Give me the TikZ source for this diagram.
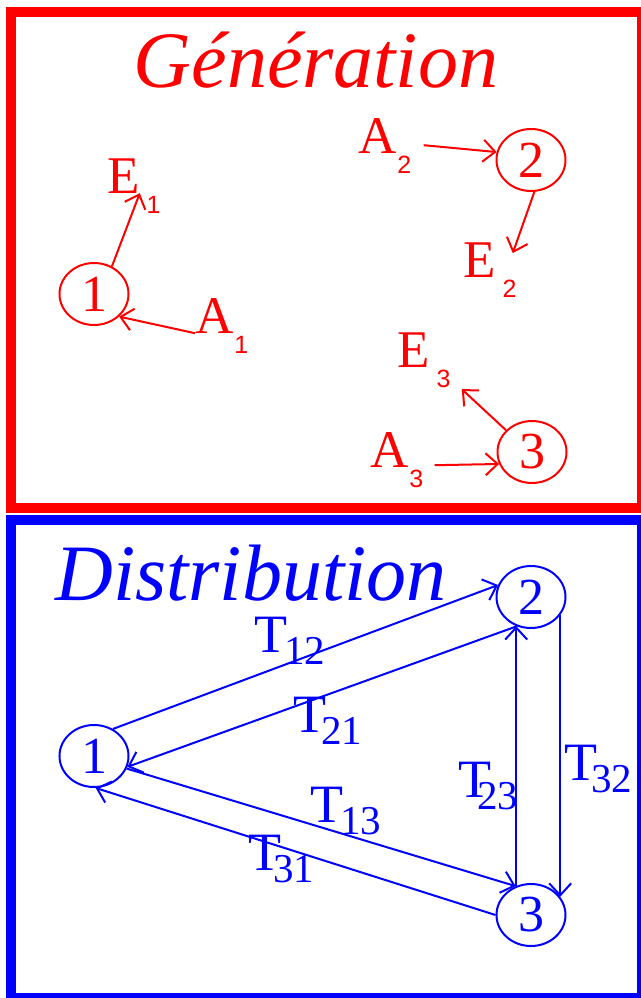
\documentclass[tikz,border=0pt]{standalone}
\usepackage{fontspec}
\setmainfont{Liberation Serif}
\setsansfont{Liberation Sans}
\usetikzlibrary{shapes.geometric,arrows.meta}

% letter with a small sans subscript hanging below (not part of the node box)
\newcommand\glab[3][7pt]{#2\smash{\rlap{\hspace{#1}\raisebox{-20pt}{\fontsize{25}{25}\sffamily #3}}}}
% T with its index
\newcommand\tlab[2][-3pt]{T\hspace{#1}\raisebox{-12pt}{\fontsize{41}{41}\selectfont #2}}

\begin{document}
\begin{tikzpicture}[x=1pt,y=-1pt,
	gnode/.style={ellipse,draw=red,text=red,line width=2pt,minimum width=69pt,minimum height=62pt,inner sep=0pt,font=\fontsize{52}{52}\selectfont},
	dnode/.style={gnode,draw=blue,text=blue},
	glabel/.style={anchor=base west,inner sep=0pt,text=red,font=\fontsize{53}{53}\selectfont},
	dlabel/.style={anchor=base west,inner sep=0pt,text=blue,font=\fontsize{54}{54}\selectfont},
	garrow/.style={red,line width=2pt,-{Straight Barb[length=12pt,width=22pt]}},
	darrow/.style={garrow,blue}]
	\useasboundingbox (0,0) rectangle (640,998);
	\draw[red,line width=10pt] (11,12) rectangle (642,508);
	\draw[blue,line width=10pt] (11,520) rectangle (642,998);

	% Generation
	\node[anchor=base,text=red,font=\fontsize{80}{80}\selectfont\itshape] (gtitle) at (316,88) {Génération};
	\node[gnode] (g1) at (94,294) {1};
	\node[gnode] (g2) at (531,160) {2};
	\node[gnode] (g3) at (532,452) {3};
	\node[glabel] (e1) at (107,193) {\glab{E}{1}};
	\node[glabel] (a1) at (195,333) {\glab[1pt]{A}{1}};
	\node[glabel] (a2) at (358,153) {\glab[1pt]{A}{2}};
	\node[glabel] (e2) at (463,277) {\glab{E}{2}};
	\node[glabel] (e3) at (397,367) {\glab{E}{3}};
	\node[glabel] (a3) at (370,467) {\glab[1pt]{A}{3}};
	\draw[garrow] (g1.57) -- (e1.south east);
	\draw[garrow] (a1.south west) -- (g1.-42);
	\draw[garrow] ([xshift=27pt,yshift=8pt]a2.south east) -- (g2.167);
	\draw[garrow] (g2.-84) -- ([xshift=17pt,yshift=-11pt]e2.north east);
	\draw[garrow] (g3.140) -- ([xshift=32pt,yshift=-22pt]e3.south east);
	\draw[garrow] ([xshift=26pt,yshift=2pt]a3.south east) -- (g3.200);

	% Distribution
	\node[anchor=base,text=blue,font=\fontsize{80}{80}\selectfont\itshape] (dtitle) at (251,600) {Distribution};
	\node[dnode] (d1) at (94,756) {1};
	\node[dnode] (d2) at (531,597) {2};
	\node[dnode] (d3) at (531,915) {3};
	\draw[darrow] (d1.55) -- (d2.160);
	\draw[darrow] (d2.244) -- (d1.-18);
	\draw[darrow] (d1.-21) -- (d3.118);
	\draw[darrow] (d3.180) -- (d1.-87);
	\draw[darrow] (d3.117) -- (d2.243);
	\draw[darrow] (d2.-32) -- (d3.32);
	\node[dlabel] (t12) at (254,652) {\tlab{12}};
	\node[dlabel] (t21) at (293,732) {\tlab[-5pt]{21}};
	\node[dlabel] (t13) at (310,822) {\tlab{13}};
	\node[dlabel] (t31) at (248,870) {\tlab[-8pt]{31}};
	\node[dlabel] (t23) at (458,797) {\tlab[-14pt]{23}};
	\node[dlabel] (t32) at (564,780) {\tlab[-6pt]{32}};
\end{tikzpicture}
\end{document}
